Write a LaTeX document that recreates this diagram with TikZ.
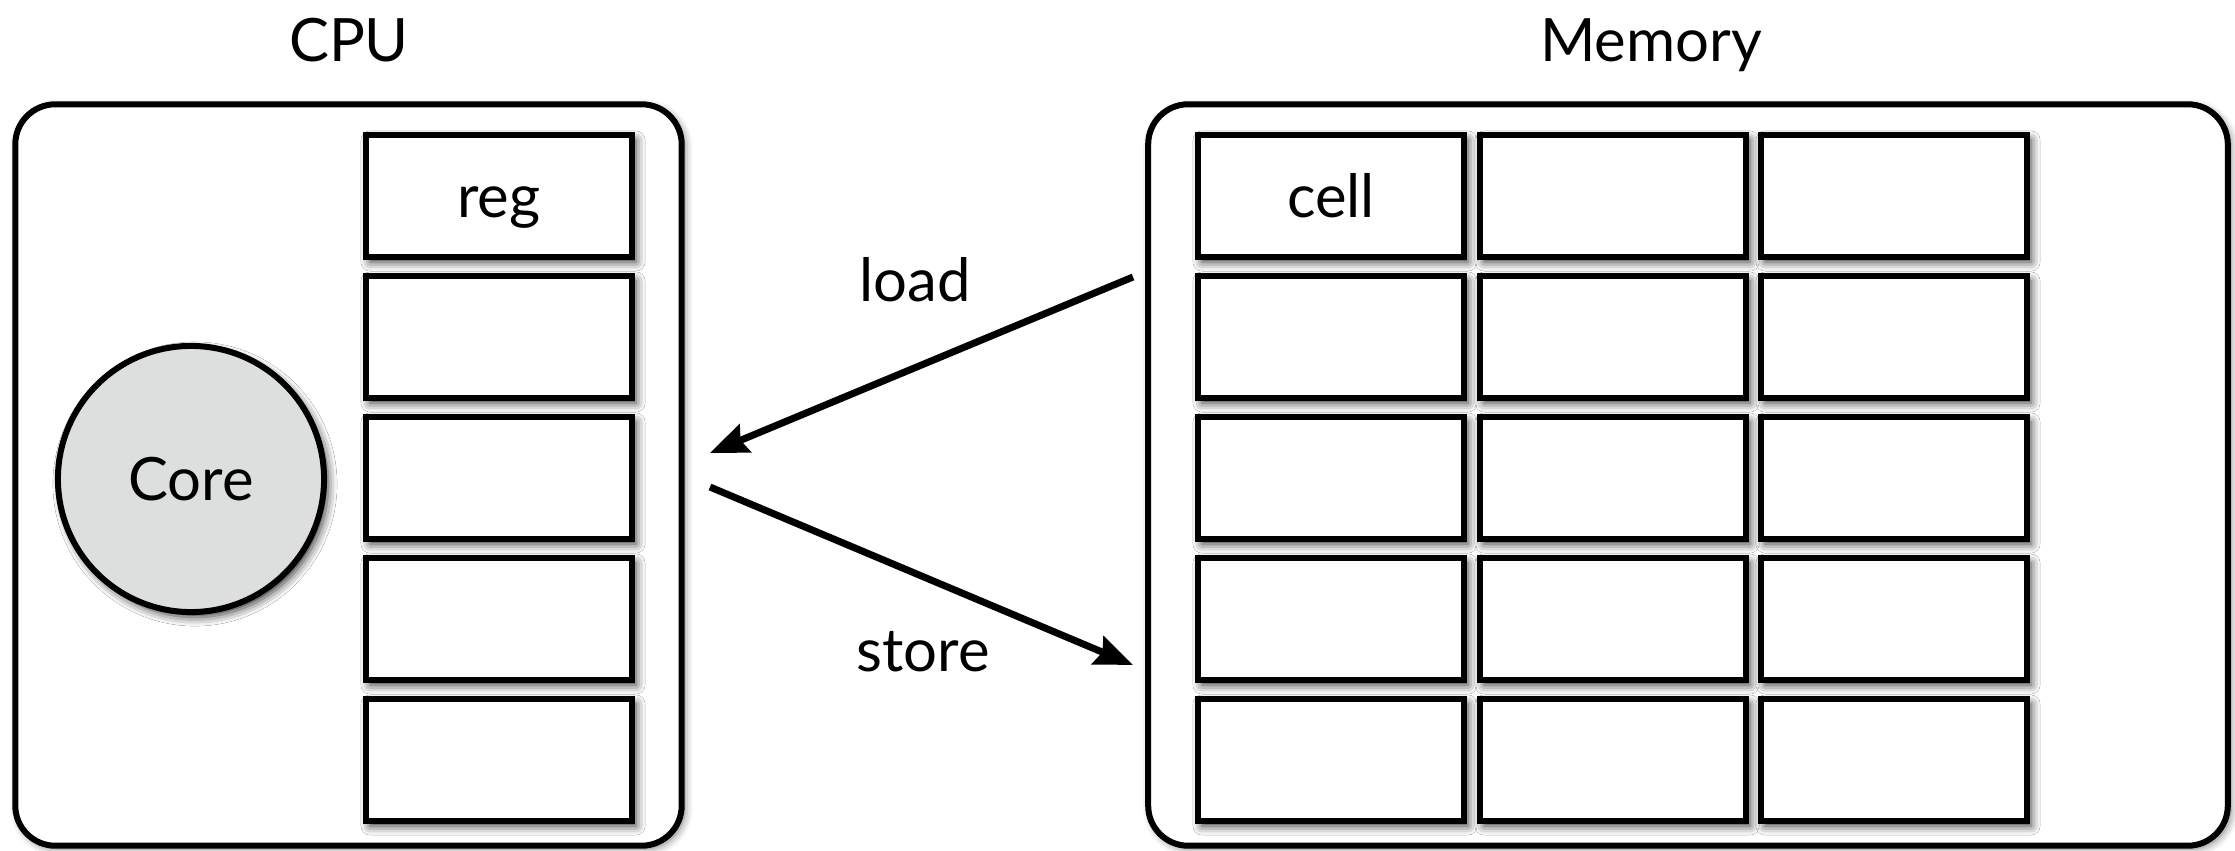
\documentclass[tikz,border=0pt]{standalone}
\usepackage{fontspec}
\setmainfont{Lato}
\usetikzlibrary{shadows.blur,arrows.meta}
\definecolor{coregray}{RGB}{221,223,223}
\begin{document}
\begin{tikzpicture}[x=0.01cm,y=-0.01cm,
  txt/.style={font=\fontsize{17}{20}\selectfont,text height=12.3pt,text depth=0pt},
  soft/.style={blur shadow={shadow xshift=0.04cm,shadow yshift=-0.05cm,
      shadow blur radius=0.09cm,shadow opacity=80}},
  frame/.style={draw=black,line width=0.06cm,fill=white,rounded corners=0.4cm,
      inner sep=0pt,outer sep=0pt,
      blur shadow={shadow xshift=0.03cm,shadow yshift=-0.03cm,
      shadow blur radius=0.08cm,shadow opacity=55}},
  slot/.style={txt,soft,draw=black,line width=0.06cm,fill=white,
      minimum width=2.66cm,minimum height=1.22cm,inner sep=0pt,outer sep=0pt},
  corenode/.style={txt,soft,circle,draw=black,line width=0.06cm,fill=coregray,
      minimum size=2.66cm,inner sep=0pt,outer sep=0pt},
  flow/.style={line width=0.07cm,-{Stealth[length=0.38cm,width=0.3cm,inset=0.05cm]}}
]
\useasboundingbox (0,0) rectangle (2235,851);

% outer frames
\node[frame,minimum width=6.66cm,minimum height=7.41cm] (cpu) at (348.5,475) {};
\node[frame,minimum width=10.79cm,minimum height=7.41cm] (mem) at (1688,475) {};

% titles
\node[txt] (cpulbl) at (349,40) {CPU};
\node[txt] (memlbl) at (1651,40) {Memory};

% core
\node[corenode] (core) at (191,479) {Core};

% registers
\foreach \r/\y in {1/196,2/337,3/478,4/619,5/760}{
  \node[slot] (reg\r) at (499,\y) {};
}
\node[txt] at (reg1) {reg};

% memory cells
\foreach \r/\y in {1/196,2/337,3/478,4/619,5/760}{
  \foreach \c/\x in {1/1331,2/1613,3/1894}{
    \node[slot] (cell\r\c) at (\x,\y) {};
  }
}
\node[txt] at (cell11) {cell};

% load / store transfers
\coordinate (ldfrom) at (1133,277);
\coordinate (ldto) at (710,453);
\coordinate (stfrom) at (710,487);
\coordinate (stto) at (1133,665);
\draw[flow] (ldfrom) -- (ldto);
\draw[flow] (stfrom) -- (stto);
\node[txt] (ldlbl) at (915,280) {load};
\node[txt] (stlbl) at (923,650) {store};
\end{tikzpicture}
\end{document}
